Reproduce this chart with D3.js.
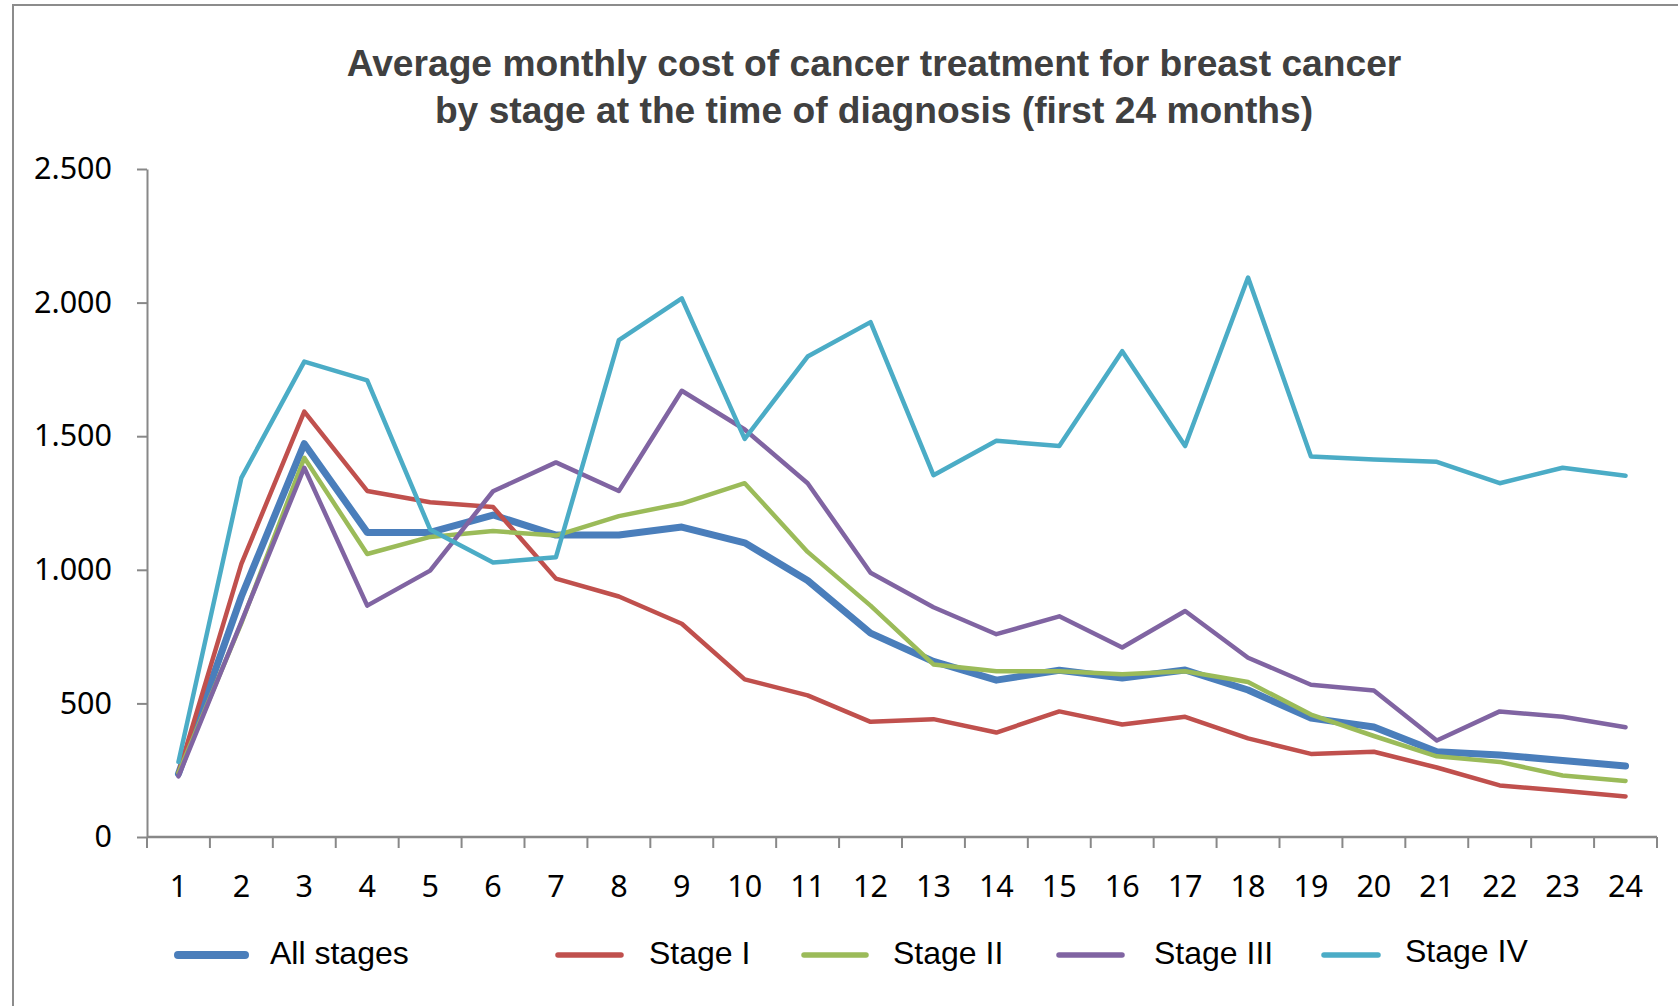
<!DOCTYPE html>
<html>
<head>
<meta charset="utf-8">
<script src="https://cdn.jsdelivr.net/npm/d3@7"></script>
<style>
  html, body { margin: 0; padding: 0; background: #fff; }
  svg { display: block; }
</style>
</head>
<body>
<svg id="chart"></svg>
<script>
// chart data
const months = d3.range(1, 25);
const seriesNames = ['All stages', 'Stage I', 'Stage II', 'Stage III', 'Stage IV'];
const allStages = [236, 900, 1472, 1140, 1140, 1205, 1130, 1130, 1160, 1101, 960, 763, 657, 587, 624, 595, 625, 550, 445, 412, 319, 307, 286, 266];
const stageI = [240, 1022, 1592, 1295, 1253, 1235, 967, 900, 798, 590, 530, 431, 441, 391, 470, 421, 450, 369, 311, 319, 260, 193, 173, 152];
const stageII = [240, 800, 1419, 1059, 1123, 1145, 1128, 1201, 1248, 1324, 1067, 866, 646, 620, 620, 609, 620, 580, 458, 378, 302, 281, 230, 210];
const stageIII = [227, 805, 1382, 866, 997, 1294, 1402, 1295, 1670, 1525, 1324, 989, 860, 759, 826, 709, 846, 671, 570, 548, 361, 470, 450, 411];
const stageIV = [281, 1344, 1779, 1709, 1151, 1027, 1047, 1860, 2016, 1490, 1798, 1927, 1354, 1483, 1463, 1818, 1463, 2094, 1424, 1413, 1404, 1324, 1382, 1352];
const yTicks = [0, 500, 1000, 1500, 2000, 2500];
const titleLines = [
  'Average monthly cost of cancer treatment for breast cancer',
  'by stage at the time of diagnosis (first 24 months)'
];

const seriesValues = [allStages, stageI, stageII, stageIII, stageIV];
const colors = ['#4A7EBB', '#C0504D', '#9BBB59', '#8064A2', '#4BACC6'];
const widths = [7, 4.5, 4.5, 4.5, 4.5];

const W = 1678, H = 1006;
const plot = { left: 147, right: 1657, top: 169, bottom: 837 };
const axisColor = '#888888';

const svg = d3.select('#chart').attr('width', W).attr('height', H);

// outer chart-area frame (only top and left edges are in view)
svg.append('path')
  .attr('d', `M13,${H} L13,5 L${W},5`)
  .attr('fill', 'none')
  .attr('stroke', '#8c8c8c')
  .attr('stroke-width', 2);

// title
const title = svg.append('text')
  .attr('x', 874)
  .attr('text-anchor', 'middle')
  .style('font-family', '"Liberation Sans", Arial, sans-serif')
  .style('font-weight', 'bold')
  .style('font-size', '37.2px')
  .attr('fill', '#404040');
title.selectAll('tspan')
  .data(titleLines)
  .enter()
  .append('tspan')
  .attr('x', 874)
  .attr('y', (d, i) => 76 + i * 47)
  .text(d => d);

const x = d3.scaleBand().domain(months).range([plot.left, plot.right]).padding(0);
const y = d3.scaleLinear().domain([0, 2500]).range([plot.bottom, plot.top]);
const xc = m => x(m) + x.bandwidth() / 2;

const fmt = d3.formatLocale({ decimal: ',', thousands: '.', grouping: [3], currency: ['', ''] }).format(',d');

// y axis
const yAxis = svg.append('g')
  .attr('transform', `translate(${plot.left},0)`)
  .call(d3.axisLeft(y).tickValues(yTicks).tickSize(10).tickPadding(25).tickFormat(fmt).tickSizeOuter(0));
yAxis.select('.domain').attr('stroke', axisColor).attr('stroke-width', 2);
yAxis.selectAll('.tick line').attr('stroke', axisColor).attr('stroke-width', 2);
yAxis.selectAll('.tick text')
  .style('font-family', '"Noto Sans", "Open Sans", sans-serif')
  .style('font-size', '30.5px')
  .attr('fill', '#000');

// x axis: ticks sit between categories
const xAxis = svg.append('g')
  .attr('transform', `translate(0,${plot.bottom})`);
xAxis.append('line')
  .attr('x1', plot.left).attr('x2', plot.right)
  .attr('stroke', axisColor).attr('stroke-width', 2.5);
const bounds = months.map(m => x(m)).concat([plot.right]);
xAxis.selectAll('.xtick')
  .data(bounds)
  .enter()
  .append('line')
  .attr('class', 'xtick')
  .attr('x1', d => d).attr('x2', d => d)
  .attr('y1', 0).attr('y2', 11)
  .attr('stroke', axisColor).attr('stroke-width', 2);
xAxis.selectAll('.xlabel')
  .data(months)
  .enter()
  .append('text')
  .attr('class', 'xlabel')
  .attr('x', d => xc(d))
  .attr('y', 60)
  .attr('text-anchor', 'middle')
  .style('font-family', '"Noto Sans", "Open Sans", sans-serif')
  .style('font-size', '30.5px')
  .attr('fill', '#000')
  .text(d => d);

// lines
const line = d3.line()
  .x((d, i) => xc(months[i]))
  .y(d => y(d));

svg.append('g')
  .selectAll('path')
  .data(seriesValues)
  .enter()
  .append('path')
  .attr('d', d => line(d))
  .attr('fill', 'none')
  .attr('stroke', (d, i) => colors[i])
  .attr('stroke-width', (d, i) => widths[i])
  .attr('stroke-linejoin', 'round')
  .attr('stroke-linecap', 'round');

// legend
const legendX = [174, 554, 800, 1055, 1320];
const legendTextX = [270, 649, 893, 1154, 1405];
const legendLen = [75, 71, 70, 71, 62];
const legend = svg.append('g')
  .selectAll('g')
  .data(seriesNames)
  .enter()
  .append('g');
legend.append('line')
  .attr('x1', (d, i) => legendX[i] + 4)
  .attr('x2', (d, i) => legendX[i] + legendLen[i] - 4)
  .attr('y1', 955).attr('y2', 955)
  .attr('stroke', (d, i) => colors[i])
  .attr('stroke-width', (d, i) => i === 0 ? 8 : 5.5)
  .attr('stroke-linecap', 'round');
legend.append('text')
  .attr('x', (d, i) => legendTextX[i])
  .attr('y', (d, i) => i === 4 ? 962 : 964)
  .style('font-family', '"Liberation Sans", Arial, sans-serif')
  .style('font-size', '32px')
  .attr('fill', '#000')
  .text(d => d);
</script>
</body>
</html>
